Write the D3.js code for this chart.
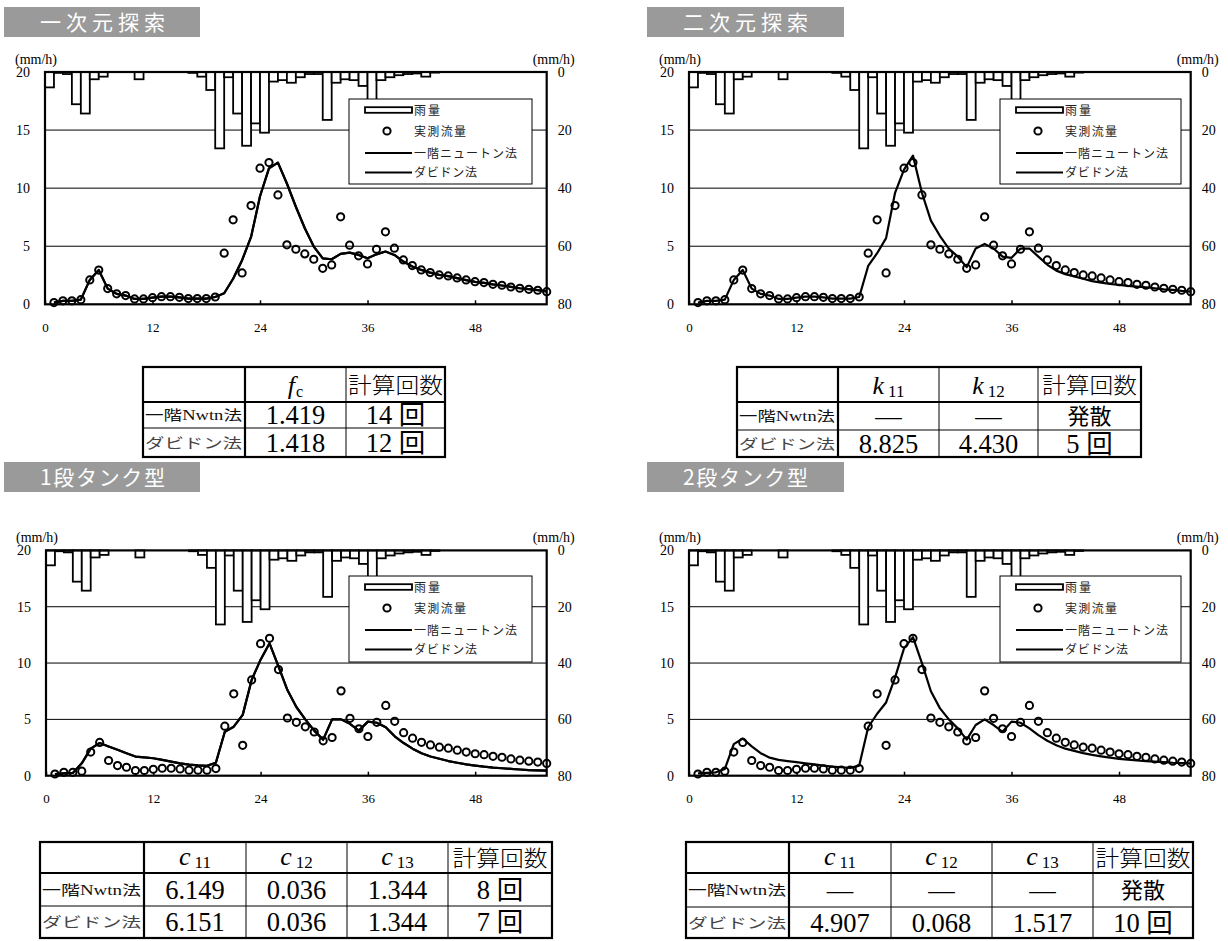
<!DOCTYPE html>
<html><head><meta charset="utf-8">
<script src="https://cdn.jsdelivr.net/npm/d3@7"></script>
<style>body{margin:0;background:#fff}</style>
</head><body><svg id="c" width="1228" height="941"></svg>
<script>
// ---------------- data ----------------
const rainHours = d3.range(0, 56);          // bar for hour h spans [h, h+1]
const rain = [5.3,0.3,0.7,11.1,14.3,2.5,1.6,0,0,0,
              2.5,0,0,0,0,0,0.3,1.6,6.2,26.3,
              1.8,14.3,25.4,17.7,20.9,3.3,2.8,3.7,1.8,0.7,
              0.7,16.5,3.7,2.5,2.8,4.8,12,2.8,1.8,1.1,
              0.7,0.5,1.6,0.2,0,0,0,0,0,0,
              0,0,0,0,0,0];
const hours = d3.range(1, 57);
const observed = [0.15,0.3,0.3,0.4,2.1,2.95,1.35,0.9,0.75,0.46,
                  0.46,0.57,0.66,0.66,0.6,0.49,0.49,0.49,0.63,4.4,
                  7.27,2.7,8.5,11.72,12.2,9.42,5.12,4.74,4.34,3.88,
                  3.1,3.39,7.53,5.09,4.17,3.48,4.74,6.24,4.83,3.82,
                  3.33,2.96,2.73,2.53,2.44,2.27,2.1,1.95,1.87,1.72,
                  1.64,1.49,1.38,1.29,1.21,1.09];
const oneDimNewton = [0.15,0.3,0.3,0.4,2.1,2.95,1.35,0.9,0.75,0.46,
                      0.46,0.57,0.66,0.66,0.6,0.49,0.49,0.49,0.63,0.95,
                      2.2,3.8,5.8,9.3,11.7,12.2,10.4,8.4,6.55,4.97,
                      3.96,3.88,4.34,4.45,4.25,3.96,4.3,4.54,4.25,3.68,
                      3.25,2.96,2.73,2.53,2.42,2.25,2.08,1.93,1.85,1.72,
                      1.62,1.5,1.38,1.3,1.22,1.12];
const oneDimDavidon = [0.15,0.3,0.3,0.4,2.1,2.95,1.35,0.9,0.75,0.46,
                       0.46,0.57,0.66,0.66,0.6,0.49,0.49,0.49,0.63,0.95,
                       2.2,3.8,5.8,9.3,11.7,12.2,10.4,8.4,6.55,4.97,
                       3.96,3.88,4.34,4.45,4.25,3.96,4.3,4.54,4.25,3.68,
                       3.25,2.96,2.73,2.53,2.42,2.25,2.08,1.93,1.85,1.72,
                       1.62,1.5,1.38,1.3,1.22,1.12];
const twoDimDavidon = [0.15,0.3,0.3,0.4,2.1,2.95,1.35,0.9,0.75,0.46,
                       0.46,0.57,0.66,0.66,0.6,0.49,0.49,0.49,0.63,3.3,
                       4.4,5.7,9.6,11.6,12.8,9.6,7.2,5.9,4.8,4.1,
                       3.2,4.8,5.2,4.8,4.1,4.0,4.8,4.8,4.1,3.4,
                       2.9,2.6,2.4,2.2,2.0,1.87,1.75,1.67,1.58,1.52,
                       1.47,1.38,1.29,1.24,1.15,1.09];
const tank1Newton = [0.15,0.2,0.25,1.1,2.4,2.9,2.6,2.3,2.0,1.7,
                     1.63,1.55,1.4,1.25,1.1,0.98,0.92,0.88,1.15,3.9,
                     4.35,5.4,8.5,10.3,11.75,9.7,7.6,6.1,5.0,4.0,
                     3.2,5.0,5.0,4.6,4.0,4.8,4.7,4.3,3.5,2.9,
                     2.4,2.0,1.7,1.5,1.3,1.15,1.0,0.9,0.8,0.72,
                     0.66,0.6,0.55,0.5,0.47,0.45];
const tank1Davidon = [0.15,0.2,0.25,1.1,2.4,2.9,2.6,2.3,2.0,1.7,
                      1.63,1.55,1.4,1.25,1.1,0.98,0.92,0.88,1.15,3.9,
                      4.35,5.4,8.5,10.3,11.75,9.7,7.6,6.1,5.0,4.0,
                      3.2,5.0,5.0,4.6,4.0,4.8,4.7,4.3,3.5,2.9,
                      2.4,2.0,1.7,1.5,1.3,1.15,1.0,0.9,0.8,0.72,
                      0.66,0.6,0.55,0.5,0.47,0.45];
const tank2Davidon = [0.2,0.25,0.3,0.6,2.8,3.3,2.6,2.0,1.6,1.4,
                      1.3,1.2,1.1,1.0,0.9,0.8,0.75,0.7,0.9,4.3,
                      5.5,6.5,8.7,11.3,12.3,10.0,7.5,6.0,5.0,4.2,
                      3.2,4.5,5.0,4.5,3.9,4.8,4.7,4.2,3.6,3.1,
                      2.7,2.4,2.2,2.0,1.85,1.72,1.6,1.5,1.42,1.35,
                      1.3,1.25,1.2,1.15,1.12,1.1];

const xTicks = [0, 12, 24, 36, 48];
const leftTicks = [0, 5, 10, 15, 20];
const rightTicks = [0, 20, 40, 60, 80];
const legendLabels = ["雨量", "実測流量", "一階ニュートン法", "ダビドン法"];
const titles = ["一次元探索", "二次元探索", "1段タンク型", "2段タンク型"];
const methodLabels = ["一階Nwtn法", "ダビドン法"];

const t1Params = [["f","c"]];
const t1Newton = ["1.419", "14 回"];
const t1Davidon = ["1.418", "12 回"];
const t2Params = [["k","11"],["k","12"]];
const t2Newton = ["—", "—", "発散"];
const t2Davidon = ["8.825", "4.430", "5 回"];
const t3Params = [["c","11"],["c","12"],["c","13"]];
const t3Newton = ["6.149", "0.036", "1.344", "8 回"];
const t3Davidon = ["6.151", "0.036", "1.344", "7 回"];
const t4Params = [["c","11"],["c","12"],["c","13"]];
const t4Newton = ["—", "—", "—", "発散"];
const t4Davidon = ["4.907", "0.068", "1.517", "10 回"];

// ---------------- drawing ----------------
const svg = d3.select("#c");
const SERIF = "Liberation Serif, serif";
const MIX = "Liberation Serif, Noto Sans CJK JP, serif";
const JP = "Noto Sans CJK JP, sans-serif";

const panels = [
  {title: titles[0], tb:[4,7,196,30], L:45, R:546.7, T:72, B:304.3, leg:[349,99,183,85],
   lines:[oneDimNewton, oneDimDavidon]},
  {title: titles[1], tb:[647,7,197,30], L:689, R:1190.7, T:72, B:304.3, leg:[1000,99,181,85],
   lines:[twoDimDavidon]},
  {title: titles[2], tb:[4,462,196,30], L:46, R:546.7, T:550.4, B:775.7, leg:[349,576,183,86],
   lines:[tank1Newton, tank1Davidon]},
  {title: titles[3], tb:[647,462,197,30], L:689, R:1190.7, T:550.4, B:775.7, leg:[1000,576,181,86],
   lines:[tank2Davidon]}
];

function drawPanel(p) {
  const g = svg.append("g");
  const x = d3.scaleLinear().domain([0, 56]).range([p.L, p.R]);
  const yL = d3.scaleLinear().domain([0, 20]).range([p.B, p.T]);
  const yR = d3.scaleLinear().domain([0, 80]).range([p.T, p.B]);

  g.append("rect").attr("x", p.tb[0]).attr("y", p.tb[1]).attr("width", p.tb[2]).attr("height", p.tb[3])
    .attr("fill", "#9a9a9a");
  g.append("text").attr("x", p.tb[0] + 36).attr("y", p.tb[1] + p.tb[3] / 2 + 8)
    .attr("font-family", JP).attr("font-size", 21)
    .attr("textLength", 125).attr("lengthAdjust", "spacing")
    .attr("fill", "#fff").text(p.title);

  g.selectAll("line.grid").data([5, 10, 15]).join("line").attr("class", "grid")
    .attr("x1", p.L).attr("x2", p.R).attr("y1", d => yL(d)).attr("y2", d => yL(d))
    .attr("stroke", "#000").attr("stroke-width", 1);

  g.selectAll("rect.rain").data(rainHours.filter((h, i) => rain[i] > 0)).join("rect").attr("class", "rain")
    .attr("x", h => x(h)).attr("width", h => x(h + 1) - x(h))
    .attr("y", p.T).attr("height", h => yR(rain[h]) - p.T)
    .attr("fill", "#fff").attr("stroke", "#000").attr("stroke-width", 1.8);

  const line = d3.line().x((d, i) => x(hours[i])).y(d => yL(d));
  p.lines.forEach(arr => {
    g.append("path").datum(arr).attr("d", line).attr("fill", "none")
      .attr("stroke", "#000").attr("stroke-width", 2.2).attr("stroke-linejoin", "round");
  });

  g.selectAll("circle.obs").data(observed).join("circle").attr("class", "obs")
    .attr("cx", (d, i) => x(hours[i])).attr("cy", d => yL(d)).attr("r", 3.6)
    .attr("fill", "none").attr("stroke", "#000").attr("stroke-width", 2);

  g.append("rect").attr("x", p.L).attr("y", p.T).attr("width", p.R - p.L).attr("height", p.B - p.T)
    .attr("fill", "none").attr("stroke", "#000").attr("stroke-width", 2.2);

  const ax = g.append("g").attr("transform", `translate(0,${p.B})`)
    .call(d3.axisBottom(x).tickValues(xTicks).tickSizeInner(-4).tickSizeOuter(0).tickPadding(18));
  const al = g.append("g").attr("transform", `translate(${p.L},0)`)
    .call(d3.axisLeft(yL).tickValues(leftTicks).tickSize(0).tickPadding(15));
  const ar = g.append("g").attr("transform", `translate(${p.R},0)`)
    .call(d3.axisRight(yR).tickValues(rightTicks).tickSize(0).tickPadding(11));
  [ax, al, ar].forEach(a => {
    a.attr("font-family", SERIF).attr("font-size", 14);
    a.select(".domain").remove();
    a.selectAll("text").attr("fill", "#000");
    a.selectAll("line").attr("stroke", "#000").attr("stroke-width", 1.5);
  });
  ax.attr("font-size", 13);
  g.append("text").attr("x", p.L - 30).attr("y", p.T - 8).attr("font-family", SERIF)
    .attr("font-size", 14).text("(mm/h)");
  g.append("text").attr("x", p.R - 14).attr("y", p.T - 8).attr("font-family", SERIF)
    .attr("font-size", 14).text("(mm/h)");

  const [lx, ly, lw, lh] = p.leg;
  const lg = g.append("g");
  lg.append("rect").attr("x", lx).attr("y", ly).attr("width", lw).attr("height", lh)
    .attr("fill", "#fff").attr("stroke", "#000").attr("stroke-width", 1);
  const rowsY = [11, 32, 54, 73.5];
  const textW = [26, 52, 103, 63];
  lg.append("rect").attr("x", lx + 16).attr("y", ly + rowsY[0] - 2.8).attr("width", 47).attr("height", 5.6)
    .attr("fill", "#fff").attr("stroke", "#000").attr("stroke-width", 1.8);
  lg.append("circle").attr("cx", lx + 38).attr("cy", ly + rowsY[1]).attr("r", 3.6)
    .attr("fill", "none").attr("stroke", "#000").attr("stroke-width", 2);
  [2, 3].forEach(k => lg.append("line").attr("x1", lx + 16).attr("x2", lx + 63)
    .attr("y1", ly + rowsY[k]).attr("y2", ly + rowsY[k]).attr("stroke", "#000").attr("stroke-width", 2.2));
  legendLabels.forEach((t, k) => {
    lg.append("text").attr("x", lx + 65).attr("y", ly + rowsY[k] + 4.5)
      .attr("font-family", JP).attr("font-size", 12)
      .attr("textLength", textW[k]).attr("lengthAdjust", "spacing")
      .attr("fill", "#222").text(t);
  });
}
panels.forEach(drawPanel);

const tables = [
  {cols:[143,245,346,445], rows:[367,402,428,457], params:t1Params, body:[t1Newton, t1Davidon]},
  {cols:[737,838,939,1038,1141], rows:[367,402,430,457], params:t2Params, body:[t2Newton, t2Davidon]},
  {cols:[40,144,246,347,448,552], rows:[842,873,906,938], params:t3Params, body:[t3Newton, t3Davidon]},
  {cols:[686,789,891,992,1093,1193], rows:[842,873,907,938], params:t4Params, body:[t4Newton, t4Davidon]}
];

function drawTable(t) {
  const g = svg.append("g");
  const c = t.cols, r = t.rows;
  const X0 = c[0], X1 = c[c.length - 1], Y0 = r[0], Y1 = r[r.length - 1];
  g.append("rect").attr("x", X0).attr("y", Y0).attr("width", X1 - X0).attr("height", Y1 - Y0)
    .attr("fill", "#fff").attr("stroke", "#000").attr("stroke-width", 2.2);
  g.append("line").attr("x1", X0).attr("x2", X1).attr("y1", r[1]).attr("y2", r[1]).attr("stroke", "#000").attr("stroke-width", 2.2);
  g.append("line").attr("x1", X0).attr("x2", X1).attr("y1", r[2]).attr("y2", r[2]).attr("stroke", "#000").attr("stroke-width", 1);
  c.slice(1, -1).forEach((cx, i) => g.append("line").attr("x1", cx).attr("x2", cx).attr("y1", Y0).attr("y2", Y1)
    .attr("stroke", "#000").attr("stroke-width", i === 0 ? 2.2 : 1));
  const mid = i => (c[i] + c[i + 1]) / 2;
  t.params.forEach((pp, i) => {
    const tx = g.append("text").attr("x", mid(i + 1)).attr("y", r[1] - 8).attr("text-anchor", "middle")
      .attr("font-family", SERIF);
    tx.append("tspan").attr("font-style", "italic").attr("font-size", 26).text(pp[0]);
    tx.append("tspan").attr("font-size", pp[1].length > 1 ? 17 : 16).attr("dx", pp[1].length > 1 ? 4 : 1).attr("dy", 3).text(pp[1]);
  });
  g.append("text").attr("x", mid(c.length - 2)).attr("y", (r[0] + r[1]) / 2 + 8).attr("text-anchor", "middle")
    .attr("font-family", JP).attr("font-size", 22).attr("font-weight", 300)
    .attr("textLength", 95).attr("lengthAdjust", "spacingAndGlyphs")
    .text("計算回数");
  t.body.forEach((row, k) => {
    const cy = (r[k + 1] + r[k + 2]) / 2;
    g.append("text").attr("x", c[0] + 2).attr("y", cy + 5).attr("font-family", MIX)
      .attr("font-size", 14).attr("textLength", c[1] - c[0] - 5).attr("lengthAdjust", "spacingAndGlyphs")
      .attr("fill", k === 0 ? "#111" : "#444").text(methodLabels[k]);
    row.forEach((v, j) => {
      const isJP = /[発散]/.test(v);
      g.append("text").attr("x", mid(j + 1)).attr("y", cy + (isJP ? 8 : 9)).attr("text-anchor", "middle")
        .attr("font-family", isJP ? JP : MIX).attr("font-size", isJP ? 22 : 26.5).text(v);
    });
  });
}
tables.forEach(drawTable);
</script>
</body></html>
